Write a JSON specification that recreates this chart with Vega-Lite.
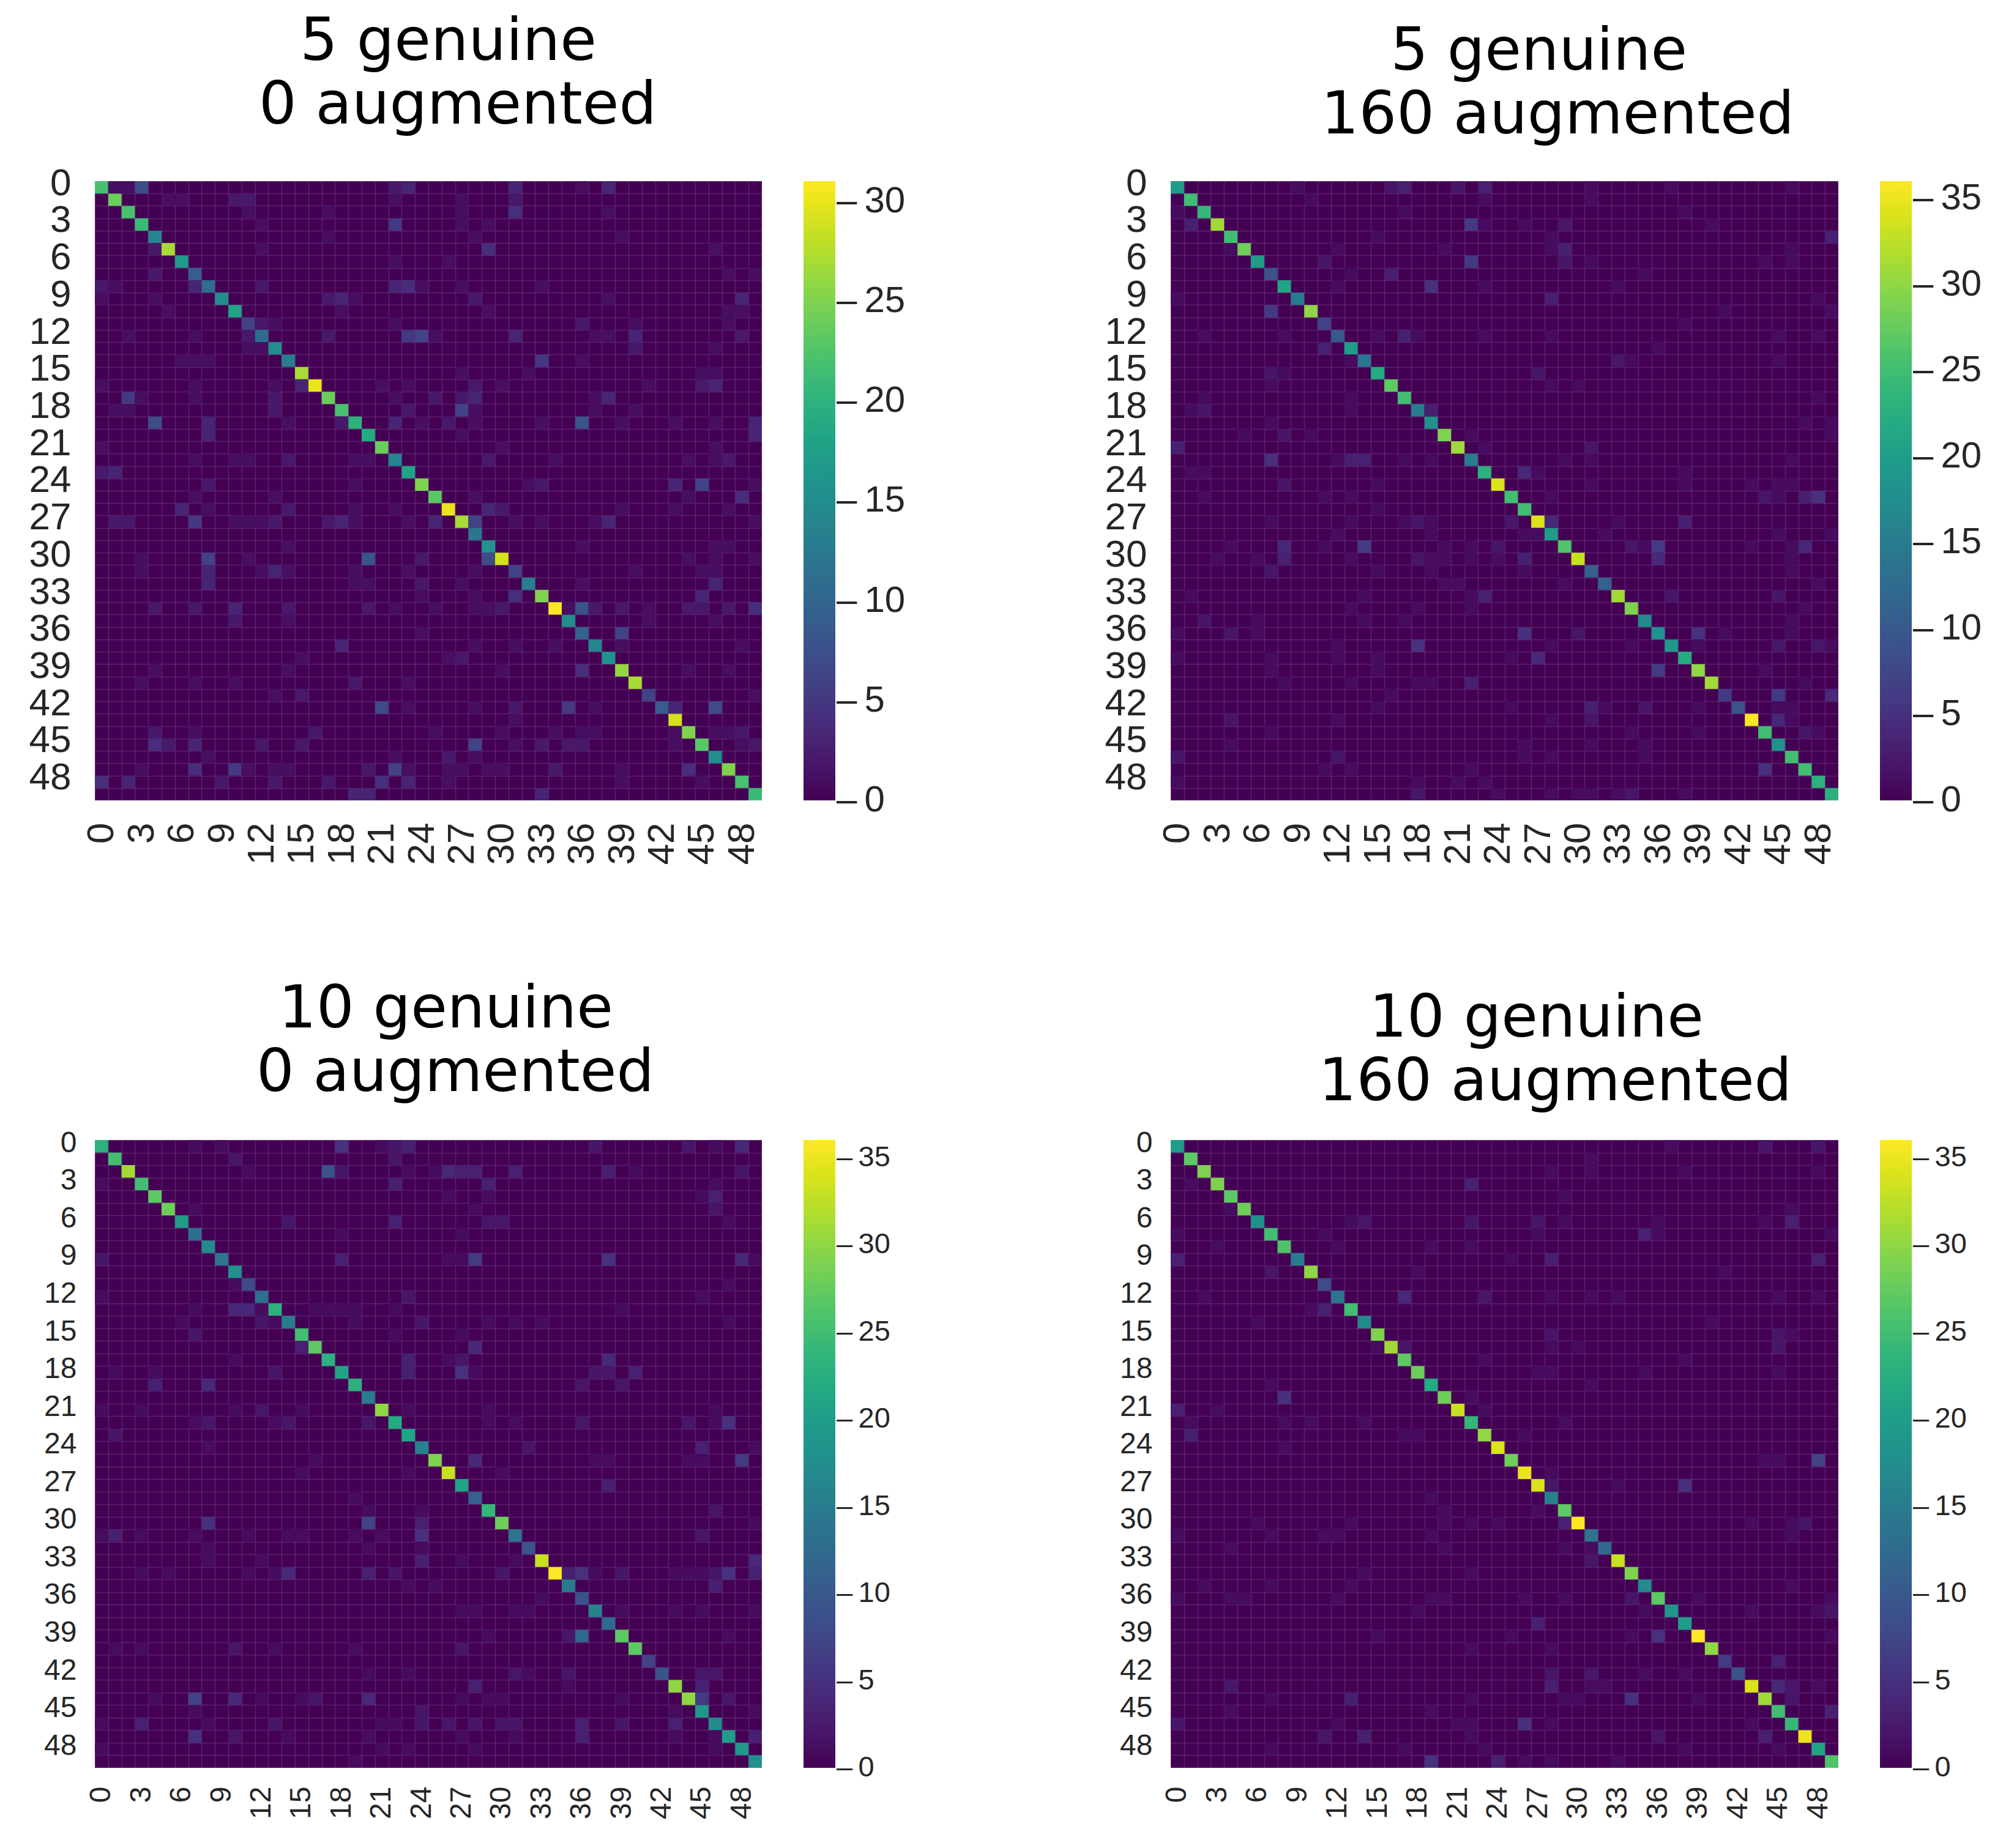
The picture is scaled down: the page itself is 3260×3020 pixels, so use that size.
{"$schema":"https://vega.github.io/schema/vega-lite/v6.json","background":"white","padding":{"left":47,"top":20,"right":10,"bottom":10},"columns":2,"spacing":{"column":668,"row":555},"bounds":"flush","resolve":{"scale":{"color":"independent"},"legend":{"color":"independent"}},"config":{"view":{"fill":"#440154","stroke":null},"title":{"font":"DejaVu Sans","fontSize":97,"fontWeight":"normal","color":"black","lineHeight":104,"anchor":"middle"},"axis":{"title":null,"ticks":false,"domain":false,"grid":true,"gridColor":"#ffffff","gridOpacity":0.13,"gridWidth":1.5,"tickBand":"extent","labelFont":"Liberation Sans","labelColor":"#262626","labelOverlap":false,"labelExpr":"datum.value % 3 == 0 ? datum.label : ''","zindex":1},"legend":{"title":null,"orient":"right","gradientThickness":52,"labelFont":"Liberation Sans","labelColor":"#262626","labelOffset":0,"padding":0,"labelLimit":400,"offset":68,"labelOverlap":false,"gradientStrokeWidth":0}},"datasets":{"a":[{"y":0,"x":0,"v":22},{"y":1,"x":1,"v":24},{"y":2,"x":2,"v":22},{"y":3,"x":3,"v":21},{"y":4,"x":4,"v":14},{"y":5,"x":5,"v":27},{"y":6,"x":6,"v":17},{"y":7,"x":7,"v":9},{"y":8,"x":8,"v":11},{"y":9,"x":9,"v":15},{"y":10,"x":10,"v":18},{"y":11,"x":11,"v":6},{"y":12,"x":12,"v":11},{"y":13,"x":13,"v":15},{"y":14,"x":14,"v":13},{"y":15,"x":15,"v":27},{"y":16,"x":16,"v":30},{"y":17,"x":17,"v":24},{"y":18,"x":18,"v":22},{"y":19,"x":19,"v":20},{"y":20,"x":20,"v":19},{"y":21,"x":21,"v":24},{"y":22,"x":22,"v":14},{"y":23,"x":23,"v":18},{"y":24,"x":24,"v":25},{"y":25,"x":25,"v":23},{"y":26,"x":26,"v":30},{"y":27,"x":27,"v":27},{"y":28,"x":28,"v":12},{"y":29,"x":29,"v":16},{"y":30,"x":30,"v":29},{"y":31,"x":31,"v":6},{"y":32,"x":32,"v":13},{"y":33,"x":33,"v":25},{"y":34,"x":34,"v":31},{"y":35,"x":35,"v":15},{"y":36,"x":36,"v":10},{"y":37,"x":37,"v":14},{"y":38,"x":38,"v":16},{"y":39,"x":39,"v":26},{"y":40,"x":40,"v":27},{"y":41,"x":41,"v":6},{"y":42,"x":42,"v":9},{"y":43,"x":43,"v":29},{"y":44,"x":44,"v":25},{"y":45,"x":45,"v":23},{"y":46,"x":46,"v":15},{"y":47,"x":47,"v":25},{"y":48,"x":48,"v":22},{"y":49,"x":49,"v":21},{"y":0,"x":1,"v":1},{"y":0,"x":2,"v":1},{"y":0,"x":3,"v":7},{"y":0,"x":22,"v":2},{"y":0,"x":23,"v":3},{"y":0,"x":31,"v":3},{"y":0,"x":36,"v":1},{"y":0,"x":38,"v":3},{"y":1,"x":5,"v":1},{"y":1,"x":6,"v":1},{"y":1,"x":10,"v":2},{"y":1,"x":11,"v":2},{"y":1,"x":22,"v":1},{"y":1,"x":27,"v":1},{"y":1,"x":31,"v":2},{"y":2,"x":11,"v":1},{"y":2,"x":17,"v":1},{"y":2,"x":27,"v":1},{"y":2,"x":31,"v":4},{"y":2,"x":38,"v":1},{"y":3,"x":12,"v":1},{"y":3,"x":22,"v":5},{"y":3,"x":27,"v":1},{"y":3,"x":29,"v":1},{"y":4,"x":17,"v":1},{"y":4,"x":28,"v":1},{"y":4,"x":39,"v":1},{"y":5,"x":4,"v":2},{"y":5,"x":12,"v":1},{"y":5,"x":29,"v":4},{"y":5,"x":46,"v":1},{"y":6,"x":22,"v":1},{"y":6,"x":26,"v":1},{"y":7,"x":4,"v":2},{"y":7,"x":47,"v":1},{"y":7,"x":49,"v":1},{"y":8,"x":0,"v":2},{"y":8,"x":1,"v":1},{"y":8,"x":7,"v":3},{"y":8,"x":12,"v":2},{"y":8,"x":22,"v":3},{"y":8,"x":23,"v":4},{"y":8,"x":24,"v":1},{"y":8,"x":27,"v":1},{"y":8,"x":33,"v":1},{"y":9,"x":0,"v":1},{"y":9,"x":4,"v":1},{"y":9,"x":17,"v":2},{"y":9,"x":18,"v":3},{"y":9,"x":19,"v":1},{"y":9,"x":28,"v":2},{"y":9,"x":38,"v":1},{"y":9,"x":48,"v":3},{"y":10,"x":5,"v":1},{"y":10,"x":18,"v":1},{"y":10,"x":29,"v":1},{"y":10,"x":47,"v":1},{"y":10,"x":48,"v":1},{"y":11,"x":12,"v":2},{"y":11,"x":13,"v":1},{"y":11,"x":22,"v":1},{"y":11,"x":36,"v":2},{"y":11,"x":40,"v":1},{"y":11,"x":47,"v":1},{"y":12,"x":2,"v":1},{"y":12,"x":7,"v":1},{"y":12,"x":11,"v":2},{"y":12,"x":17,"v":2},{"y":12,"x":23,"v":5},{"y":12,"x":24,"v":6},{"y":12,"x":25,"v":1},{"y":12,"x":31,"v":3},{"y":12,"x":37,"v":1},{"y":12,"x":38,"v":1},{"y":12,"x":40,"v":3},{"y":12,"x":48,"v":2},{"y":13,"x":11,"v":1},{"y":13,"x":12,"v":1},{"y":13,"x":40,"v":2},{"y":13,"x":46,"v":1},{"y":14,"x":6,"v":1},{"y":14,"x":7,"v":1},{"y":14,"x":8,"v":1},{"y":14,"x":33,"v":5},{"y":14,"x":36,"v":1},{"y":15,"x":27,"v":1},{"y":15,"x":32,"v":1},{"y":15,"x":45,"v":1},{"y":15,"x":46,"v":1},{"y":16,"x":0,"v":1},{"y":16,"x":7,"v":1},{"y":16,"x":13,"v":1},{"y":16,"x":15,"v":3},{"y":16,"x":21,"v":1},{"y":16,"x":23,"v":1},{"y":16,"x":28,"v":2},{"y":16,"x":30,"v":1},{"y":16,"x":41,"v":1},{"y":16,"x":45,"v":2},{"y":16,"x":46,"v":3},{"y":17,"x":2,"v":5},{"y":17,"x":3,"v":1},{"y":17,"x":7,"v":1},{"y":17,"x":13,"v":2},{"y":17,"x":22,"v":1},{"y":17,"x":25,"v":2},{"y":17,"x":27,"v":2},{"y":17,"x":28,"v":3},{"y":17,"x":37,"v":1},{"y":17,"x":38,"v":3},{"y":18,"x":1,"v":1},{"y":18,"x":2,"v":1},{"y":18,"x":13,"v":2},{"y":18,"x":23,"v":2},{"y":18,"x":27,"v":6},{"y":18,"x":28,"v":1},{"y":18,"x":37,"v":1},{"y":18,"x":40,"v":1},{"y":19,"x":4,"v":7},{"y":19,"x":8,"v":3},{"y":19,"x":14,"v":1},{"y":19,"x":18,"v":2},{"y":19,"x":22,"v":3},{"y":19,"x":24,"v":1},{"y":19,"x":26,"v":2},{"y":19,"x":28,"v":1},{"y":19,"x":33,"v":1},{"y":19,"x":36,"v":8},{"y":19,"x":39,"v":1},{"y":19,"x":43,"v":1},{"y":19,"x":46,"v":1},{"y":19,"x":49,"v":3},{"y":20,"x":8,"v":3},{"y":20,"x":27,"v":1},{"y":20,"x":49,"v":3},{"y":21,"x":0,"v":1},{"y":21,"x":30,"v":1},{"y":21,"x":46,"v":1},{"y":22,"x":7,"v":1},{"y":22,"x":10,"v":1},{"y":22,"x":11,"v":1},{"y":22,"x":14,"v":2},{"y":22,"x":19,"v":1},{"y":22,"x":20,"v":1},{"y":22,"x":29,"v":2},{"y":22,"x":34,"v":1},{"y":22,"x":44,"v":1},{"y":22,"x":46,"v":1},{"y":22,"x":47,"v":2},{"y":23,"x":0,"v":2},{"y":23,"x":1,"v":3},{"y":24,"x":8,"v":2},{"y":24,"x":19,"v":1},{"y":24,"x":32,"v":1},{"y":24,"x":33,"v":2},{"y":24,"x":43,"v":3},{"y":24,"x":45,"v":6},{"y":24,"x":49,"v":1},{"y":25,"x":7,"v":1},{"y":25,"x":13,"v":1},{"y":25,"x":28,"v":1},{"y":25,"x":44,"v":1},{"y":25,"x":48,"v":4},{"y":26,"x":6,"v":3},{"y":26,"x":8,"v":1},{"y":26,"x":14,"v":2},{"y":26,"x":19,"v":1},{"y":26,"x":22,"v":1},{"y":26,"x":29,"v":3},{"y":26,"x":30,"v":2},{"y":26,"x":39,"v":1},{"y":26,"x":43,"v":1},{"y":26,"x":47,"v":1},{"y":27,"x":1,"v":2},{"y":27,"x":2,"v":2},{"y":27,"x":7,"v":5},{"y":27,"x":10,"v":1},{"y":27,"x":11,"v":1},{"y":27,"x":12,"v":1},{"y":27,"x":13,"v":2},{"y":27,"x":17,"v":2},{"y":27,"x":18,"v":3},{"y":27,"x":19,"v":1},{"y":27,"x":23,"v":1},{"y":27,"x":25,"v":3},{"y":27,"x":28,"v":6},{"y":27,"x":31,"v":1},{"y":27,"x":33,"v":1},{"y":27,"x":37,"v":1},{"y":27,"x":38,"v":3},{"y":27,"x":49,"v":1},{"y":29,"x":14,"v":1},{"y":29,"x":36,"v":1},{"y":29,"x":46,"v":1},{"y":29,"x":47,"v":1},{"y":30,"x":3,"v":1},{"y":30,"x":8,"v":6},{"y":30,"x":11,"v":1},{"y":30,"x":20,"v":8},{"y":30,"x":24,"v":2},{"y":30,"x":29,"v":7},{"y":30,"x":44,"v":1},{"y":30,"x":46,"v":1},{"y":30,"x":49,"v":1},{"y":31,"x":3,"v":1},{"y":31,"x":8,"v":3},{"y":31,"x":12,"v":1},{"y":31,"x":13,"v":3},{"y":31,"x":14,"v":1},{"y":31,"x":19,"v":1},{"y":31,"x":23,"v":1},{"y":31,"x":28,"v":1},{"y":31,"x":40,"v":1},{"y":31,"x":45,"v":1},{"y":31,"x":46,"v":1},{"y":32,"x":8,"v":3},{"y":32,"x":19,"v":1},{"y":32,"x":20,"v":1},{"y":32,"x":24,"v":2},{"y":32,"x":27,"v":1},{"y":32,"x":36,"v":1},{"y":32,"x":46,"v":3},{"y":33,"x":24,"v":1},{"y":33,"x":28,"v":1},{"y":33,"x":31,"v":4},{"y":33,"x":45,"v":3},{"y":34,"x":4,"v":2},{"y":34,"x":7,"v":2},{"y":34,"x":10,"v":3},{"y":34,"x":14,"v":2},{"y":34,"x":20,"v":2},{"y":34,"x":22,"v":1},{"y":34,"x":25,"v":1},{"y":34,"x":28,"v":1},{"y":34,"x":29,"v":1},{"y":34,"x":30,"v":2},{"y":34,"x":35,"v":1},{"y":34,"x":36,"v":8},{"y":34,"x":37,"v":2},{"y":34,"x":39,"v":2},{"y":34,"x":41,"v":1},{"y":34,"x":44,"v":2},{"y":34,"x":45,"v":2},{"y":34,"x":47,"v":2},{"y":34,"x":49,"v":4},{"y":35,"x":10,"v":2},{"y":35,"x":14,"v":1},{"y":35,"x":41,"v":1},{"y":35,"x":46,"v":1},{"y":36,"x":24,"v":1},{"y":36,"x":39,"v":6},{"y":37,"x":18,"v":3},{"y":37,"x":28,"v":1},{"y":37,"x":31,"v":1},{"y":37,"x":34,"v":1},{"y":37,"x":39,"v":1},{"y":37,"x":48,"v":1},{"y":38,"x":15,"v":1},{"y":38,"x":26,"v":1},{"y":38,"x":27,"v":2},{"y":39,"x":4,"v":1},{"y":39,"x":14,"v":1},{"y":39,"x":30,"v":1},{"y":39,"x":36,"v":4},{"y":39,"x":44,"v":1},{"y":39,"x":47,"v":1},{"y":40,"x":3,"v":1},{"y":40,"x":7,"v":1},{"y":40,"x":10,"v":1},{"y":40,"x":19,"v":2},{"y":40,"x":23,"v":1},{"y":41,"x":13,"v":1},{"y":41,"x":15,"v":2},{"y":41,"x":49,"v":1},{"y":42,"x":21,"v":7},{"y":42,"x":23,"v":1},{"y":42,"x":28,"v":1},{"y":42,"x":31,"v":2},{"y":42,"x":35,"v":5},{"y":42,"x":37,"v":1},{"y":42,"x":43,"v":3},{"y":42,"x":46,"v":7},{"y":43,"x":31,"v":1},{"y":44,"x":4,"v":2},{"y":44,"x":7,"v":1},{"y":44,"x":16,"v":2},{"y":44,"x":25,"v":1},{"y":44,"x":30,"v":1},{"y":44,"x":34,"v":1},{"y":44,"x":36,"v":1},{"y":44,"x":37,"v":1},{"y":44,"x":43,"v":1},{"y":44,"x":46,"v":1},{"y":44,"x":47,"v":1},{"y":44,"x":48,"v":2},{"y":45,"x":4,"v":4},{"y":45,"x":5,"v":2},{"y":45,"x":7,"v":3},{"y":45,"x":12,"v":2},{"y":45,"x":15,"v":2},{"y":45,"x":28,"v":6},{"y":45,"x":31,"v":1},{"y":45,"x":33,"v":2},{"y":45,"x":35,"v":2},{"y":45,"x":36,"v":2},{"y":45,"x":43,"v":1},{"y":45,"x":48,"v":1},{"y":45,"x":49,"v":2},{"y":46,"x":8,"v":1},{"y":46,"x":22,"v":1},{"y":46,"x":26,"v":2},{"y":46,"x":28,"v":1},{"y":47,"x":3,"v":1},{"y":47,"x":7,"v":4},{"y":47,"x":10,"v":5},{"y":47,"x":11,"v":1},{"y":47,"x":13,"v":1},{"y":47,"x":14,"v":1},{"y":47,"x":20,"v":2},{"y":47,"x":22,"v":6},{"y":47,"x":23,"v":1},{"y":47,"x":26,"v":1},{"y":47,"x":27,"v":1},{"y":47,"x":29,"v":1},{"y":47,"x":30,"v":1},{"y":47,"x":34,"v":2},{"y":47,"x":39,"v":1},{"y":47,"x":44,"v":4},{"y":48,"x":0,"v":4},{"y":48,"x":2,"v":3},{"y":48,"x":9,"v":2},{"y":48,"x":13,"v":2},{"y":48,"x":17,"v":2},{"y":48,"x":21,"v":4},{"y":48,"x":23,"v":3},{"y":48,"x":26,"v":1},{"y":48,"x":39,"v":1},{"y":48,"x":45,"v":1},{"y":49,"x":19,"v":3},{"y":49,"x":20,"v":3},{"y":49,"x":33,"v":3}],"b":[{"y":0,"x":0,"v":20},{"y":1,"x":1,"v":25},{"y":2,"x":2,"v":24},{"y":3,"x":3,"v":31},{"y":4,"x":4,"v":25},{"y":5,"x":5,"v":28},{"y":6,"x":6,"v":20},{"y":7,"x":7,"v":9},{"y":8,"x":8,"v":21},{"y":9,"x":9,"v":15},{"y":10,"x":10,"v":30},{"y":11,"x":11,"v":7},{"y":12,"x":12,"v":10},{"y":13,"x":13,"v":20},{"y":14,"x":14,"v":14},{"y":15,"x":15,"v":22},{"y":16,"x":16,"v":27},{"y":17,"x":17,"v":25},{"y":18,"x":18,"v":15},{"y":19,"x":19,"v":18},{"y":20,"x":20,"v":29},{"y":21,"x":21,"v":31},{"y":22,"x":22,"v":15},{"y":23,"x":23,"v":23},{"y":24,"x":24,"v":34},{"y":25,"x":25,"v":25},{"y":26,"x":26,"v":25},{"y":27,"x":27,"v":34},{"y":28,"x":28,"v":20},{"y":29,"x":29,"v":26},{"y":30,"x":30,"v":33},{"y":31,"x":31,"v":11},{"y":32,"x":32,"v":11},{"y":33,"x":33,"v":31},{"y":34,"x":34,"v":29},{"y":35,"x":35,"v":17},{"y":36,"x":36,"v":18},{"y":37,"x":37,"v":19},{"y":38,"x":38,"v":22},{"y":39,"x":39,"v":30},{"y":40,"x":40,"v":31},{"y":41,"x":41,"v":6},{"y":42,"x":42,"v":9},{"y":43,"x":43,"v":36},{"y":44,"x":44,"v":25},{"y":45,"x":45,"v":18},{"y":46,"x":46,"v":25},{"y":47,"x":47,"v":25},{"y":48,"x":48,"v":23},{"y":49,"x":49,"v":23},{"y":0,"x":9,"v":1},{"y":0,"x":16,"v":2},{"y":0,"x":17,"v":3},{"y":0,"x":21,"v":2},{"y":0,"x":23,"v":3},{"y":0,"x":31,"v":1},{"y":0,"x":37,"v":1},{"y":0,"x":46,"v":1},{"y":1,"x":10,"v":1},{"y":1,"x":23,"v":1},{"y":1,"x":31,"v":1},{"y":2,"x":0,"v":1},{"y":2,"x":17,"v":1},{"y":2,"x":38,"v":1},{"y":3,"x":1,"v":3},{"y":3,"x":22,"v":6},{"y":3,"x":23,"v":1},{"y":3,"x":26,"v":1},{"y":3,"x":29,"v":2},{"y":3,"x":40,"v":1},{"y":4,"x":15,"v":1},{"y":4,"x":28,"v":1},{"y":4,"x":49,"v":3},{"y":5,"x":4,"v":1},{"y":5,"x":12,"v":1},{"y":5,"x":20,"v":1},{"y":5,"x":28,"v":1},{"y":5,"x":29,"v":3},{"y":5,"x":46,"v":1},{"y":6,"x":11,"v":2},{"y":6,"x":22,"v":6},{"y":6,"x":29,"v":2},{"y":6,"x":31,"v":1},{"y":6,"x":44,"v":1},{"y":6,"x":46,"v":1},{"y":7,"x":13,"v":1},{"y":7,"x":16,"v":3},{"y":7,"x":35,"v":1},{"y":8,"x":12,"v":1},{"y":8,"x":19,"v":5},{"y":8,"x":23,"v":1},{"y":8,"x":33,"v":1},{"y":9,"x":0,"v":1},{"y":9,"x":28,"v":3},{"y":9,"x":48,"v":1},{"y":10,"x":7,"v":6},{"y":10,"x":41,"v":1},{"y":10,"x":49,"v":1},{"y":11,"x":38,"v":1},{"y":12,"x":2,"v":1},{"y":12,"x":8,"v":1},{"y":12,"x":15,"v":1},{"y":12,"x":17,"v":3},{"y":12,"x":18,"v":1},{"y":12,"x":23,"v":1},{"y":12,"x":28,"v":1},{"y":12,"x":45,"v":1},{"y":12,"x":48,"v":1},{"y":13,"x":11,"v":3},{"y":13,"x":36,"v":1},{"y":14,"x":13,"v":1},{"y":14,"x":33,"v":2},{"y":14,"x":34,"v":1},{"y":14,"x":45,"v":1},{"y":15,"x":7,"v":2},{"y":15,"x":8,"v":1},{"y":15,"x":27,"v":2},{"y":16,"x":7,"v":1},{"y":16,"x":28,"v":1},{"y":16,"x":30,"v":1},{"y":17,"x":2,"v":1},{"y":17,"x":13,"v":1},{"y":17,"x":48,"v":1},{"y":18,"x":1,"v":1},{"y":18,"x":2,"v":2},{"y":18,"x":13,"v":1},{"y":18,"x":19,"v":3},{"y":19,"x":7,"v":1},{"y":19,"x":47,"v":1},{"y":19,"x":49,"v":1},{"y":20,"x":5,"v":1},{"y":20,"x":8,"v":2},{"y":20,"x":10,"v":1},{"y":20,"x":22,"v":1},{"y":20,"x":49,"v":1},{"y":21,"x":0,"v":3},{"y":21,"x":23,"v":1},{"y":21,"x":31,"v":2},{"y":22,"x":7,"v":5},{"y":22,"x":12,"v":1},{"y":22,"x":13,"v":3},{"y":22,"x":14,"v":3},{"y":22,"x":17,"v":1},{"y":22,"x":19,"v":1},{"y":22,"x":29,"v":1},{"y":22,"x":31,"v":1},{"y":22,"x":46,"v":1},{"y":23,"x":1,"v":1},{"y":23,"x":2,"v":1},{"y":23,"x":26,"v":4},{"y":23,"x":27,"v":1},{"y":23,"x":38,"v":1},{"y":24,"x":8,"v":2},{"y":24,"x":15,"v":1},{"y":24,"x":31,"v":1},{"y":24,"x":38,"v":1},{"y":24,"x":43,"v":1},{"y":24,"x":45,"v":1},{"y":24,"x":46,"v":1},{"y":25,"x":2,"v":1},{"y":25,"x":11,"v":1},{"y":25,"x":13,"v":1},{"y":25,"x":28,"v":1},{"y":25,"x":44,"v":2},{"y":25,"x":45,"v":1},{"y":25,"x":47,"v":3},{"y":25,"x":48,"v":5},{"y":26,"x":15,"v":1},{"y":27,"x":7,"v":1},{"y":27,"x":13,"v":1},{"y":27,"x":17,"v":1},{"y":27,"x":18,"v":2},{"y":27,"x":19,"v":1},{"y":27,"x":25,"v":2},{"y":27,"x":28,"v":4},{"y":27,"x":33,"v":1},{"y":27,"x":38,"v":3},{"y":28,"x":12,"v":1},{"y":28,"x":19,"v":1},{"y":28,"x":26,"v":1},{"y":28,"x":27,"v":1},{"y":28,"x":32,"v":1},{"y":28,"x":45,"v":1},{"y":28,"x":49,"v":1},{"y":29,"x":4,"v":1},{"y":29,"x":8,"v":4},{"y":29,"x":11,"v":1},{"y":29,"x":14,"v":6},{"y":29,"x":20,"v":1},{"y":29,"x":22,"v":1},{"y":29,"x":24,"v":2},{"y":29,"x":34,"v":2},{"y":29,"x":35,"v":1},{"y":29,"x":36,"v":6},{"y":29,"x":43,"v":1},{"y":29,"x":46,"v":1},{"y":29,"x":47,"v":4},{"y":30,"x":3,"v":1},{"y":30,"x":6,"v":1},{"y":30,"x":8,"v":3},{"y":30,"x":13,"v":1},{"y":30,"x":18,"v":2},{"y":30,"x":19,"v":1},{"y":30,"x":20,"v":1},{"y":30,"x":22,"v":1},{"y":30,"x":24,"v":1},{"y":30,"x":26,"v":3},{"y":30,"x":36,"v":4},{"y":30,"x":46,"v":1},{"y":31,"x":7,"v":2},{"y":31,"x":15,"v":1},{"y":31,"x":19,"v":1},{"y":31,"x":26,"v":1},{"y":31,"x":46,"v":1},{"y":32,"x":20,"v":1},{"y":32,"x":21,"v":1},{"y":32,"x":29,"v":1},{"y":32,"x":48,"v":1},{"y":33,"x":1,"v":1},{"y":33,"x":14,"v":1},{"y":33,"x":22,"v":1},{"y":33,"x":23,"v":3},{"y":33,"x":37,"v":2},{"y":33,"x":45,"v":2},{"y":34,"x":13,"v":1},{"y":34,"x":18,"v":1},{"y":34,"x":22,"v":1},{"y":34,"x":47,"v":1},{"y":35,"x":2,"v":2},{"y":35,"x":6,"v":1},{"y":35,"x":14,"v":1},{"y":35,"x":17,"v":1},{"y":35,"x":46,"v":1},{"y":36,"x":0,"v":1},{"y":36,"x":4,"v":2},{"y":36,"x":6,"v":1},{"y":36,"x":26,"v":5},{"y":36,"x":30,"v":2},{"y":36,"x":39,"v":5},{"y":36,"x":41,"v":1},{"y":36,"x":46,"v":1},{"y":37,"x":12,"v":1},{"y":37,"x":18,"v":5},{"y":37,"x":28,"v":1},{"y":37,"x":34,"v":1},{"y":37,"x":39,"v":1},{"y":37,"x":45,"v":2},{"y":37,"x":48,"v":2},{"y":37,"x":49,"v":1},{"y":38,"x":0,"v":1},{"y":38,"x":7,"v":1},{"y":38,"x":12,"v":1},{"y":38,"x":15,"v":1},{"y":38,"x":25,"v":1},{"y":38,"x":27,"v":4},{"y":39,"x":7,"v":1},{"y":39,"x":15,"v":1},{"y":39,"x":36,"v":6},{"y":39,"x":44,"v":1},{"y":40,"x":8,"v":1},{"y":40,"x":13,"v":1},{"y":40,"x":18,"v":1},{"y":40,"x":19,"v":1},{"y":40,"x":22,"v":3},{"y":40,"x":47,"v":1},{"y":41,"x":16,"v":1},{"y":41,"x":45,"v":6},{"y":41,"x":49,"v":4},{"y":42,"x":15,"v":1},{"y":42,"x":25,"v":1},{"y":42,"x":31,"v":3},{"y":42,"x":32,"v":1},{"y":42,"x":35,"v":2},{"y":42,"x":39,"v":1},{"y":42,"x":45,"v":1},{"y":42,"x":46,"v":1},{"y":43,"x":4,"v":2},{"y":43,"x":12,"v":1},{"y":43,"x":28,"v":1},{"y":43,"x":31,"v":2},{"y":43,"x":45,"v":4},{"y":43,"x":46,"v":1},{"y":44,"x":7,"v":1},{"y":44,"x":34,"v":1},{"y":44,"x":39,"v":1},{"y":44,"x":47,"v":2},{"y":44,"x":48,"v":1},{"y":45,"x":4,"v":1},{"y":45,"x":26,"v":1},{"y":45,"x":31,"v":1},{"y":45,"x":35,"v":1},{"y":46,"x":0,"v":2},{"y":46,"x":12,"v":2},{"y":46,"x":26,"v":1},{"y":46,"x":28,"v":1},{"y":46,"x":35,"v":1},{"y":47,"x":11,"v":1},{"y":47,"x":13,"v":1},{"y":47,"x":22,"v":1},{"y":47,"x":44,"v":5},{"y":48,"x":0,"v":1},{"y":48,"x":18,"v":1},{"y":48,"x":21,"v":1},{"y":48,"x":23,"v":1},{"y":49,"x":18,"v":2},{"y":49,"x":24,"v":1},{"y":49,"x":28,"v":1},{"y":49,"x":30,"v":1},{"y":49,"x":31,"v":1},{"y":49,"x":33,"v":1},{"y":49,"x":34,"v":2},{"y":49,"x":38,"v":1}],"c":[{"y":0,"x":0,"v":23},{"y":1,"x":1,"v":25},{"y":2,"x":2,"v":31},{"y":3,"x":3,"v":25},{"y":4,"x":4,"v":27},{"y":5,"x":5,"v":28},{"y":6,"x":6,"v":20},{"y":7,"x":7,"v":13},{"y":8,"x":8,"v":17},{"y":9,"x":9,"v":14},{"y":10,"x":10,"v":18},{"y":11,"x":11,"v":8},{"y":12,"x":12,"v":13},{"y":13,"x":13,"v":23},{"y":14,"x":14,"v":15},{"y":15,"x":15,"v":25},{"y":16,"x":16,"v":27},{"y":17,"x":17,"v":23},{"y":18,"x":18,"v":21},{"y":19,"x":19,"v":23},{"y":20,"x":20,"v":15},{"y":21,"x":21,"v":30},{"y":22,"x":22,"v":22},{"y":23,"x":23,"v":21},{"y":24,"x":24,"v":16},{"y":25,"x":25,"v":29},{"y":26,"x":26,"v":33},{"y":27,"x":27,"v":21},{"y":28,"x":28,"v":11},{"y":29,"x":29,"v":24},{"y":30,"x":30,"v":28},{"y":31,"x":31,"v":14},{"y":32,"x":32,"v":9},{"y":33,"x":33,"v":33},{"y":34,"x":34,"v":36},{"y":35,"x":35,"v":15},{"y":36,"x":36,"v":9},{"y":37,"x":37,"v":16},{"y":38,"x":38,"v":12},{"y":39,"x":39,"v":27},{"y":40,"x":40,"v":27},{"y":41,"x":41,"v":7},{"y":42,"x":42,"v":9},{"y":43,"x":43,"v":30},{"y":44,"x":44,"v":30},{"y":45,"x":45,"v":19},{"y":46,"x":46,"v":17},{"y":47,"x":47,"v":20},{"y":48,"x":48,"v":19},{"y":49,"x":49,"v":18},{"y":0,"x":7,"v":1},{"y":0,"x":9,"v":1},{"y":0,"x":18,"v":5},{"y":0,"x":21,"v":1},{"y":0,"x":22,"v":2},{"y":0,"x":23,"v":3},{"y":0,"x":37,"v":2},{"y":0,"x":44,"v":2},{"y":0,"x":46,"v":1},{"y":0,"x":48,"v":4},{"y":1,"x":10,"v":2},{"y":1,"x":22,"v":2},{"y":2,"x":11,"v":1},{"y":2,"x":17,"v":9},{"y":2,"x":18,"v":2},{"y":2,"x":23,"v":1},{"y":2,"x":25,"v":1},{"y":2,"x":26,"v":4},{"y":2,"x":27,"v":3},{"y":2,"x":28,"v":3},{"y":2,"x":31,"v":3},{"y":2,"x":38,"v":3},{"y":2,"x":40,"v":1},{"y":2,"x":48,"v":2},{"y":3,"x":0,"v":1},{"y":3,"x":22,"v":3},{"y":3,"x":29,"v":3},{"y":3,"x":46,"v":1},{"y":4,"x":26,"v":1},{"y":4,"x":29,"v":1},{"y":4,"x":45,"v":1},{"y":4,"x":46,"v":3},{"y":5,"x":7,"v":1},{"y":5,"x":28,"v":1},{"y":5,"x":46,"v":2},{"y":6,"x":14,"v":2},{"y":6,"x":22,"v":3},{"y":6,"x":29,"v":2},{"y":6,"x":30,"v":2},{"y":6,"x":47,"v":1},{"y":7,"x":18,"v":1},{"y":7,"x":27,"v":1},{"y":9,"x":0,"v":2},{"y":9,"x":18,"v":3},{"y":9,"x":26,"v":1},{"y":9,"x":27,"v":1},{"y":9,"x":28,"v":6},{"y":9,"x":38,"v":5},{"y":9,"x":48,"v":4},{"y":9,"x":49,"v":1},{"y":11,"x":10,"v":1},{"y":11,"x":47,"v":1},{"y":12,"x":0,"v":1},{"y":12,"x":23,"v":2},{"y":12,"x":45,"v":1},{"y":13,"x":7,"v":1},{"y":13,"x":10,"v":4},{"y":13,"x":11,"v":4},{"y":13,"x":12,"v":1},{"y":13,"x":16,"v":1},{"y":13,"x":17,"v":1},{"y":13,"x":18,"v":1},{"y":13,"x":19,"v":1},{"y":13,"x":22,"v":1},{"y":13,"x":39,"v":1},{"y":14,"x":6,"v":1},{"y":14,"x":12,"v":2},{"y":14,"x":13,"v":1},{"y":14,"x":19,"v":1},{"y":14,"x":24,"v":2},{"y":14,"x":29,"v":1},{"y":14,"x":31,"v":1},{"y":14,"x":33,"v":1},{"y":14,"x":47,"v":1},{"y":15,"x":7,"v":2},{"y":15,"x":22,"v":1},{"y":15,"x":27,"v":1},{"y":16,"x":15,"v":3},{"y":16,"x":28,"v":4},{"y":17,"x":10,"v":1},{"y":17,"x":23,"v":3},{"y":17,"x":26,"v":1},{"y":17,"x":27,"v":2},{"y":17,"x":38,"v":4},{"y":18,"x":1,"v":1},{"y":18,"x":4,"v":1},{"y":18,"x":13,"v":2},{"y":18,"x":23,"v":3},{"y":18,"x":27,"v":5},{"y":18,"x":28,"v":1},{"y":18,"x":37,"v":2},{"y":18,"x":38,"v":2},{"y":18,"x":40,"v":3},{"y":19,"x":4,"v":3},{"y":19,"x":8,"v":4},{"y":19,"x":36,"v":2},{"y":19,"x":39,"v":2},{"y":21,"x":0,"v":1},{"y":21,"x":3,"v":1},{"y":21,"x":10,"v":1},{"y":21,"x":12,"v":2},{"y":21,"x":15,"v":1},{"y":21,"x":23,"v":1},{"y":21,"x":29,"v":1},{"y":21,"x":46,"v":1},{"y":22,"x":7,"v":1},{"y":22,"x":8,"v":2},{"y":22,"x":13,"v":1},{"y":22,"x":14,"v":2},{"y":22,"x":20,"v":2},{"y":22,"x":29,"v":1},{"y":22,"x":31,"v":1},{"y":22,"x":36,"v":2},{"y":22,"x":44,"v":2},{"y":22,"x":46,"v":1},{"y":22,"x":47,"v":5},{"y":23,"x":1,"v":2},{"y":24,"x":8,"v":1},{"y":24,"x":32,"v":2},{"y":24,"x":45,"v":3},{"y":24,"x":49,"v":1},{"y":25,"x":16,"v":1},{"y":25,"x":28,"v":4},{"y":25,"x":37,"v":1},{"y":25,"x":38,"v":1},{"y":25,"x":44,"v":1},{"y":25,"x":45,"v":1},{"y":25,"x":48,"v":6},{"y":26,"x":15,"v":1},{"y":26,"x":23,"v":1},{"y":26,"x":30,"v":1},{"y":27,"x":38,"v":3},{"y":28,"x":19,"v":1},{"y":29,"x":20,"v":1},{"y":29,"x":24,"v":1},{"y":29,"x":46,"v":2},{"y":30,"x":8,"v":5},{"y":30,"x":20,"v":7},{"y":30,"x":24,"v":3},{"y":30,"x":49,"v":1},{"y":31,"x":0,"v":1},{"y":31,"x":1,"v":3},{"y":31,"x":3,"v":1},{"y":31,"x":7,"v":1},{"y":31,"x":11,"v":1},{"y":31,"x":14,"v":1},{"y":31,"x":15,"v":1},{"y":31,"x":19,"v":1},{"y":31,"x":21,"v":1},{"y":31,"x":24,"v":5},{"y":31,"x":45,"v":2},{"y":32,"x":8,"v":1},{"y":32,"x":20,"v":1},{"y":32,"x":24,"v":1},{"y":33,"x":8,"v":1},{"y":33,"x":12,"v":1},{"y":33,"x":24,"v":3},{"y":33,"x":27,"v":1},{"y":33,"x":31,"v":1},{"y":33,"x":49,"v":4},{"y":34,"x":3,"v":1},{"y":34,"x":5,"v":1},{"y":34,"x":11,"v":1},{"y":34,"x":13,"v":1},{"y":34,"x":14,"v":4},{"y":34,"x":20,"v":3},{"y":34,"x":22,"v":2},{"y":34,"x":30,"v":2},{"y":34,"x":35,"v":3},{"y":34,"x":36,"v":5},{"y":34,"x":37,"v":1},{"y":34,"x":39,"v":2},{"y":34,"x":43,"v":1},{"y":34,"x":44,"v":1},{"y":34,"x":45,"v":1},{"y":34,"x":46,"v":2},{"y":34,"x":47,"v":5},{"y":34,"x":49,"v":3},{"y":35,"x":23,"v":1},{"y":35,"x":25,"v":1},{"y":35,"x":46,"v":3},{"y":36,"x":33,"v":1},{"y":37,"x":27,"v":1},{"y":37,"x":28,"v":1},{"y":37,"x":31,"v":1},{"y":37,"x":32,"v":1},{"y":37,"x":39,"v":1},{"y":37,"x":43,"v":1},{"y":37,"x":45,"v":1},{"y":37,"x":49,"v":1},{"y":39,"x":29,"v":1},{"y":39,"x":35,"v":2},{"y":39,"x":36,"v":12},{"y":39,"x":47,"v":1},{"y":40,"x":1,"v":1},{"y":40,"x":3,"v":1},{"y":40,"x":10,"v":2},{"y":40,"x":13,"v":1},{"y":40,"x":19,"v":1},{"y":40,"x":27,"v":2},{"y":42,"x":20,"v":1},{"y":42,"x":23,"v":1},{"y":42,"x":31,"v":2},{"y":42,"x":32,"v":1},{"y":42,"x":35,"v":2},{"y":42,"x":45,"v":2},{"y":42,"x":46,"v":2},{"y":43,"x":28,"v":3},{"y":43,"x":35,"v":1},{"y":43,"x":45,"v":3},{"y":44,"x":4,"v":1},{"y":44,"x":7,"v":7},{"y":44,"x":10,"v":4},{"y":44,"x":12,"v":1},{"y":44,"x":15,"v":1},{"y":44,"x":16,"v":2},{"y":44,"x":20,"v":4},{"y":44,"x":27,"v":1},{"y":44,"x":29,"v":1},{"y":44,"x":30,"v":1},{"y":44,"x":39,"v":1},{"y":44,"x":45,"v":6},{"y":44,"x":47,"v":2},{"y":45,"x":7,"v":1},{"y":45,"x":24,"v":2},{"y":45,"x":43,"v":1},{"y":45,"x":49,"v":1},{"y":46,"x":0,"v":1},{"y":46,"x":3,"v":3},{"y":46,"x":8,"v":1},{"y":46,"x":13,"v":2},{"y":46,"x":21,"v":1},{"y":46,"x":22,"v":1},{"y":46,"x":24,"v":2},{"y":46,"x":26,"v":2},{"y":46,"x":28,"v":2},{"y":46,"x":30,"v":2},{"y":46,"x":31,"v":2},{"y":46,"x":36,"v":3},{"y":46,"x":39,"v":2},{"y":46,"x":43,"v":3},{"y":47,"x":7,"v":5},{"y":47,"x":10,"v":2},{"y":47,"x":14,"v":1},{"y":47,"x":20,"v":1},{"y":47,"x":27,"v":1},{"y":47,"x":31,"v":1},{"y":47,"x":36,"v":3},{"y":47,"x":43,"v":1},{"y":47,"x":46,"v":1},{"y":47,"x":49,"v":3},{"y":48,"x":0,"v":1},{"y":48,"x":21,"v":1},{"y":48,"x":23,"v":1},{"y":48,"x":28,"v":1},{"y":48,"x":46,"v":1},{"y":49,"x":19,"v":1}],"d":[{"y":0,"x":0,"v":20},{"y":1,"x":1,"v":27},{"y":2,"x":2,"v":29},{"y":3,"x":3,"v":29},{"y":4,"x":4,"v":27},{"y":5,"x":5,"v":28},{"y":6,"x":6,"v":18},{"y":7,"x":7,"v":25},{"y":8,"x":8,"v":26},{"y":9,"x":9,"v":15},{"y":10,"x":10,"v":30},{"y":11,"x":11,"v":8},{"y":12,"x":12,"v":14},{"y":13,"x":13,"v":25},{"y":14,"x":14,"v":17},{"y":15,"x":15,"v":29},{"y":16,"x":16,"v":31},{"y":17,"x":17,"v":27},{"y":18,"x":18,"v":28},{"y":19,"x":19,"v":22},{"y":20,"x":20,"v":28},{"y":21,"x":21,"v":33},{"y":22,"x":22,"v":24},{"y":23,"x":23,"v":30},{"y":24,"x":24,"v":34},{"y":25,"x":25,"v":28},{"y":26,"x":26,"v":35},{"y":27,"x":27,"v":34},{"y":28,"x":28,"v":16},{"y":29,"x":29,"v":27},{"y":30,"x":30,"v":36},{"y":31,"x":31,"v":14},{"y":32,"x":32,"v":12},{"y":33,"x":33,"v":33},{"y":34,"x":34,"v":29},{"y":35,"x":35,"v":17},{"y":36,"x":36,"v":27},{"y":37,"x":37,"v":19},{"y":38,"x":38,"v":20},{"y":39,"x":39,"v":36},{"y":40,"x":40,"v":30},{"y":41,"x":41,"v":6},{"y":42,"x":42,"v":9},{"y":43,"x":43,"v":34},{"y":44,"x":44,"v":31},{"y":45,"x":45,"v":25},{"y":46,"x":46,"v":24},{"y":47,"x":47,"v":35},{"y":48,"x":48,"v":21},{"y":49,"x":49,"v":26},{"y":0,"x":37,"v":1},{"y":0,"x":44,"v":2},{"y":0,"x":48,"v":2},{"y":1,"x":31,"v":1},{"y":2,"x":28,"v":1},{"y":2,"x":31,"v":1},{"y":2,"x":38,"v":1},{"y":2,"x":48,"v":1},{"y":3,"x":1,"v":1},{"y":3,"x":22,"v":3},{"y":4,"x":29,"v":1},{"y":5,"x":4,"v":1},{"y":5,"x":46,"v":1},{"y":6,"x":13,"v":1},{"y":6,"x":14,"v":2},{"y":6,"x":22,"v":2},{"y":6,"x":27,"v":2},{"y":6,"x":29,"v":1},{"y":6,"x":36,"v":1},{"y":6,"x":44,"v":1},{"y":6,"x":46,"v":3},{"y":7,"x":0,"v":1},{"y":7,"x":11,"v":1},{"y":7,"x":27,"v":1},{"y":7,"x":35,"v":3},{"y":7,"x":36,"v":1},{"y":7,"x":49,"v":1},{"y":8,"x":3,"v":1},{"y":8,"x":12,"v":1},{"y":8,"x":19,"v":1},{"y":8,"x":22,"v":1},{"y":9,"x":0,"v":3},{"y":9,"x":25,"v":1},{"y":9,"x":28,"v":3},{"y":9,"x":48,"v":3},{"y":10,"x":7,"v":2},{"y":10,"x":18,"v":1},{"y":10,"x":41,"v":1},{"y":12,"x":2,"v":1},{"y":12,"x":17,"v":4},{"y":12,"x":23,"v":2},{"y":12,"x":28,"v":1},{"y":12,"x":31,"v":1},{"y":12,"x":33,"v":1},{"y":12,"x":45,"v":1},{"y":12,"x":48,"v":1},{"y":13,"x":10,"v":1},{"y":13,"x":11,"v":3},{"y":14,"x":6,"v":1},{"y":14,"x":40,"v":1},{"y":15,"x":28,"v":2},{"y":15,"x":45,"v":2},{"y":15,"x":46,"v":1},{"y":16,"x":15,"v":1},{"y":16,"x":17,"v":2},{"y":16,"x":28,"v":1},{"y":16,"x":30,"v":1},{"y":16,"x":45,"v":2},{"y":17,"x":23,"v":1},{"y":17,"x":38,"v":1},{"y":18,"x":27,"v":1},{"y":18,"x":28,"v":1},{"y":18,"x":35,"v":1},{"y":18,"x":45,"v":1},{"y":19,"x":7,"v":1},{"y":19,"x":31,"v":1},{"y":20,"x":8,"v":5},{"y":20,"x":22,"v":1},{"y":21,"x":0,"v":3},{"y":21,"x":3,"v":1},{"y":21,"x":23,"v":1},{"y":22,"x":1,"v":1},{"y":22,"x":8,"v":1},{"y":22,"x":10,"v":1},{"y":22,"x":14,"v":1},{"y":22,"x":29,"v":1},{"y":23,"x":1,"v":3},{"y":23,"x":17,"v":1},{"y":23,"x":18,"v":1},{"y":23,"x":26,"v":1},{"y":24,"x":8,"v":1},{"y":25,"x":44,"v":1},{"y":25,"x":45,"v":1},{"y":25,"x":48,"v":7},{"y":26,"x":28,"v":1},{"y":27,"x":28,"v":2},{"y":27,"x":33,"v":1},{"y":27,"x":38,"v":5},{"y":28,"x":19,"v":1},{"y":29,"x":20,"v":1},{"y":29,"x":27,"v":1},{"y":30,"x":6,"v":1},{"y":30,"x":13,"v":1},{"y":30,"x":20,"v":1},{"y":30,"x":22,"v":1},{"y":30,"x":24,"v":1},{"y":30,"x":29,"v":3},{"y":30,"x":43,"v":1},{"y":30,"x":46,"v":1},{"y":30,"x":47,"v":2},{"y":31,"x":0,"v":1},{"y":31,"x":7,"v":1},{"y":31,"x":11,"v":1},{"y":31,"x":12,"v":1},{"y":31,"x":19,"v":1},{"y":31,"x":46,"v":1},{"y":32,"x":4,"v":1},{"y":32,"x":20,"v":1},{"y":32,"x":29,"v":1},{"y":32,"x":31,"v":1},{"y":33,"x":31,"v":2},{"y":34,"x":14,"v":1},{"y":34,"x":22,"v":1},{"y":35,"x":2,"v":1},{"y":35,"x":7,"v":1},{"y":35,"x":13,"v":1},{"y":35,"x":46,"v":1},{"y":36,"x":0,"v":1},{"y":36,"x":4,"v":1},{"y":36,"x":5,"v":1},{"y":36,"x":12,"v":1},{"y":36,"x":19,"v":1},{"y":36,"x":20,"v":1},{"y":36,"x":26,"v":1},{"y":36,"x":29,"v":1},{"y":36,"x":34,"v":2},{"y":36,"x":39,"v":1},{"y":36,"x":49,"v":1},{"y":37,"x":18,"v":1},{"y":37,"x":35,"v":1},{"y":37,"x":43,"v":1},{"y":37,"x":48,"v":1},{"y":37,"x":49,"v":2},{"y":38,"x":27,"v":3},{"y":39,"x":15,"v":1},{"y":39,"x":25,"v":1},{"y":39,"x":34,"v":1},{"y":39,"x":36,"v":5},{"y":39,"x":49,"v":1},{"y":40,"x":22,"v":1},{"y":40,"x":28,"v":1},{"y":41,"x":45,"v":3},{"y":42,"x":28,"v":2},{"y":42,"x":31,"v":2},{"y":42,"x":35,"v":1},{"y":42,"x":38,"v":1},{"y":43,"x":4,"v":2},{"y":43,"x":28,"v":3},{"y":43,"x":31,"v":1},{"y":43,"x":32,"v":1},{"y":43,"x":45,"v":4},{"y":43,"x":46,"v":2},{"y":43,"x":48,"v":1},{"y":44,"x":7,"v":1},{"y":44,"x":13,"v":3},{"y":44,"x":22,"v":1},{"y":44,"x":29,"v":1},{"y":44,"x":30,"v":1},{"y":44,"x":34,"v":5},{"y":44,"x":39,"v":1},{"y":44,"x":46,"v":2},{"y":45,"x":4,"v":1},{"y":45,"x":19,"v":1},{"y":45,"x":49,"v":3},{"y":46,"x":0,"v":2},{"y":46,"x":12,"v":1},{"y":46,"x":21,"v":1},{"y":46,"x":22,"v":1},{"y":46,"x":26,"v":5},{"y":46,"x":28,"v":1},{"y":46,"x":43,"v":1},{"y":47,"x":11,"v":2},{"y":47,"x":14,"v":3},{"y":47,"x":22,"v":1},{"y":47,"x":36,"v":2},{"y":47,"x":44,"v":3},{"y":48,"x":7,"v":1},{"y":48,"x":17,"v":1},{"y":48,"x":23,"v":1},{"y":48,"x":38,"v":1},{"y":48,"x":45,"v":1},{"y":49,"x":19,"v":5},{"y":49,"x":24,"v":3},{"y":49,"x":26,"v":1},{"y":49,"x":28,"v":1},{"y":49,"x":33,"v":1}]},"concat":[{"title":{"text":["5 genuine\u00a0\u200b","0 augmented"],"dx":48,"offset":43},"width":1090,"height":1012,"data":{"name":"a"},"mark":{"type":"rect"},"encoding":{"x":{"field":"x","type":"ordinal","sort":null,"scale":{"domain":[0,1,2,3,4,5,6,7,8,9,10,11,12,13,14,15,16,17,18,19,20,21,22,23,24,25,26,27,28,29,30,31,32,33,34,35,36,37,38,39,40,41,42,43,44,45,46,47,48,49],"paddingInner":0,"paddingOuter":0},"axis":{"values":[0,1,2,3,4,5,6,7,8,9,10,11,12,13,14,15,16,17,18,19,20,21,22,23,24,25,26,27,28,29,30,31,32,33,34,35,36,37,38,39,40,41,42,43,44,45,46,47,48,49],"labelAngle":-90,"labelFontSize":62,"labelPadding":36,"labelBaseline":"middle","labelAlign":"right"}},"y":{"field":"y","type":"ordinal","sort":null,"scale":{"domain":[0,1,2,3,4,5,6,7,8,9,10,11,12,13,14,15,16,17,18,19,20,21,22,23,24,25,26,27,28,29,30,31,32,33,34,35,36,37,38,39,40,41,42,43,44,45,46,47,48,49],"paddingInner":0,"paddingOuter":0},"axis":{"values":[0,1,2,3,4,5,6,7,8,9,10,11,12,13,14,15,16,17,18,19,20,21,22,23,24,25,26,27,28,29,30,31,32,33,34,35,36,37,38,39,40,41,42,43,44,45,46,47,48,49],"labelFontSize":62,"labelPadding":39,"labelOffset":-7}},"color":{"field":"v","type":"quantitative","scale":{"scheme":"viridis","domain":[0,31]},"legend":{"gradientLength":1012,"values":[0,5,10,15,20,25,30],"labelFontSize":60,"labelExpr":"'–\u2009' + datum.label","encode":{"labels":{"update":{"baseline":{"value":"middle"}}}}}}}},{"title":{"text":["5 genuine\u00a0\u00a0\u200b","160 augmented"],"dx":87,"offset":27},"width":1091,"height":1012,"data":{"name":"b"},"mark":{"type":"rect"},"encoding":{"x":{"field":"x","type":"ordinal","sort":null,"scale":{"domain":[0,1,2,3,4,5,6,7,8,9,10,11,12,13,14,15,16,17,18,19,20,21,22,23,24,25,26,27,28,29,30,31,32,33,34,35,36,37,38,39,40,41,42,43,44,45,46,47,48,49],"paddingInner":0,"paddingOuter":0},"axis":{"values":[0,1,2,3,4,5,6,7,8,9,10,11,12,13,14,15,16,17,18,19,20,21,22,23,24,25,26,27,28,29,30,31,32,33,34,35,36,37,38,39,40,41,42,43,44,45,46,47,48,49],"labelAngle":-90,"labelFontSize":62,"labelPadding":36,"labelBaseline":"middle","labelAlign":"right"}},"y":{"field":"y","type":"ordinal","sort":null,"scale":{"domain":[0,1,2,3,4,5,6,7,8,9,10,11,12,13,14,15,16,17,18,19,20,21,22,23,24,25,26,27,28,29,30,31,32,33,34,35,36,37,38,39,40,41,42,43,44,45,46,47,48,49],"paddingInner":0,"paddingOuter":0},"axis":{"values":[0,1,2,3,4,5,6,7,8,9,10,11,12,13,14,15,16,17,18,19,20,21,22,23,24,25,26,27,28,29,30,31,32,33,34,35,36,37,38,39,40,41,42,43,44,45,46,47,48,49],"labelFontSize":62,"labelPadding":39,"labelOffset":-7}},"color":{"field":"v","type":"quantitative","scale":{"scheme":"viridis","domain":[0,36]},"legend":{"gradientLength":1012,"values":[0,5,10,15,20,25,30,35],"labelFontSize":60,"labelExpr":"'–\u2009' + datum.label","encode":{"labels":{"update":{"baseline":{"value":"middle"}}}}}}}},{"title":{"text":["10 genuine\u00a0\u200b","0 augmented"],"dx":44,"offset":36},"width":1090,"height":1026,"data":{"name":"c"},"mark":{"type":"rect"},"encoding":{"x":{"field":"x","type":"ordinal","sort":null,"scale":{"domain":[0,1,2,3,4,5,6,7,8,9,10,11,12,13,14,15,16,17,18,19,20,21,22,23,24,25,26,27,28,29,30,31,32,33,34,35,36,37,38,39,40,41,42,43,44,45,46,47,48,49],"paddingInner":0,"paddingOuter":0},"axis":{"values":[0,1,2,3,4,5,6,7,8,9,10,11,12,13,14,15,16,17,18,19,20,21,22,23,24,25,26,27,28,29,30,31,32,33,34,35,36,37,38,39,40,41,42,43,44,45,46,47,48,49],"labelAngle":-90,"labelFontSize":48,"labelPadding":30,"labelBaseline":"middle","labelAlign":"right"}},"y":{"field":"y","type":"ordinal","sort":null,"scale":{"domain":[0,1,2,3,4,5,6,7,8,9,10,11,12,13,14,15,16,17,18,19,20,21,22,23,24,25,26,27,28,29,30,31,32,33,34,35,36,37,38,39,40,41,42,43,44,45,46,47,48,49],"paddingInner":0,"paddingOuter":0},"axis":{"values":[0,1,2,3,4,5,6,7,8,9,10,11,12,13,14,15,16,17,18,19,20,21,22,23,24,25,26,27,28,29,30,31,32,33,34,35,36,37,38,39,40,41,42,43,44,45,46,47,48,49],"labelFontSize":48,"labelPadding":30,"labelOffset":-5}},"color":{"field":"v","type":"quantitative","scale":{"scheme":"viridis","domain":[0,36]},"legend":{"gradientLength":1026,"values":[0,5,10,15,20,25,30,35],"labelFontSize":47,"labelExpr":"'–\u2009' + datum.label","encode":{"labels":{"update":{"baseline":{"value":"middle"}}}}}}}},{"title":{"text":["10 genuine\u00a0\u00a0\u200b","160 augmented"],"dx":83,"offset":21},"width":1091,"height":1026,"data":{"name":"d"},"mark":{"type":"rect"},"encoding":{"x":{"field":"x","type":"ordinal","sort":null,"scale":{"domain":[0,1,2,3,4,5,6,7,8,9,10,11,12,13,14,15,16,17,18,19,20,21,22,23,24,25,26,27,28,29,30,31,32,33,34,35,36,37,38,39,40,41,42,43,44,45,46,47,48,49],"paddingInner":0,"paddingOuter":0},"axis":{"values":[0,1,2,3,4,5,6,7,8,9,10,11,12,13,14,15,16,17,18,19,20,21,22,23,24,25,26,27,28,29,30,31,32,33,34,35,36,37,38,39,40,41,42,43,44,45,46,47,48,49],"labelAngle":-90,"labelFontSize":48,"labelPadding":30,"labelBaseline":"middle","labelAlign":"right"}},"y":{"field":"y","type":"ordinal","sort":null,"scale":{"domain":[0,1,2,3,4,5,6,7,8,9,10,11,12,13,14,15,16,17,18,19,20,21,22,23,24,25,26,27,28,29,30,31,32,33,34,35,36,37,38,39,40,41,42,43,44,45,46,47,48,49],"paddingInner":0,"paddingOuter":0},"axis":{"values":[0,1,2,3,4,5,6,7,8,9,10,11,12,13,14,15,16,17,18,19,20,21,22,23,24,25,26,27,28,29,30,31,32,33,34,35,36,37,38,39,40,41,42,43,44,45,46,47,48,49],"labelFontSize":48,"labelPadding":30,"labelOffset":-5}},"color":{"field":"v","type":"quantitative","scale":{"scheme":"viridis","domain":[0,36]},"legend":{"gradientLength":1026,"values":[0,5,10,15,20,25,30,35],"labelFontSize":47,"labelExpr":"'–\u2009' + datum.label","encode":{"labels":{"update":{"baseline":{"value":"middle"}}}}}}}}]}
